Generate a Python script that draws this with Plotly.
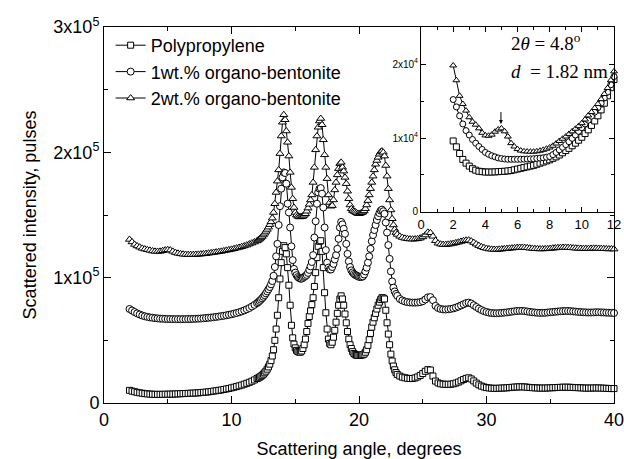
import numpy as np
import plotly.graph_objects as go

# ---------------- data (intensities in thousands of pulses) ----------------
# scan grid: 0.2 deg steps on baselines, 0.1 deg steps across the peak region
angle_lo = np.round(np.arange(2.0, 11.81, 0.2), 1)
angle_mid = np.round(np.arange(12.0, 23.01, 0.1), 1)
angle_hi = np.round(np.arange(23.2, 40.01, 0.2), 1)
angle = np.concatenate([angle_lo, angle_mid, angle_hi])

pp_lo = [10.1, 9.5, 9.0, 8.5, 8.1, 7.8, 7.5, 7.3, 7.1, 7.0,
         6.9, 6.9, 6.9, 6.9, 7.0, 7.0, 7.1, 7.1, 7.2, 7.3,
         7.4, 7.5, 7.6, 7.7, 7.8, 7.9, 8.0, 8.1, 8.3, 8.5,
         8.7, 8.9, 9.2, 9.5, 9.8, 10.1, 10.4, 10.8, 11.2, 11.6,
         12.1, 12.6, 13.1, 13.7, 14.3, 15.0, 15.7, 16.5, 17.4, 18.4]
pp_mid = [19.5, 20.0, 20.6, 21.3, 22.1, 23.0, 24.1, 25.4, 27.0, 28.8,
          31.0, 33.8, 37.5, 42.5, 50.0, 59.0, 70.0, 84.0, 99.0, 112.0,
          121.0, 125.5, 124.0, 119.0, 108.0, 94.0, 78.0, 62.0, 52.0, 47.0,
          44.0, 42.0, 41.0, 40.6, 40.6, 41.5, 43.5, 46.5, 51.0, 57.0,
          63.5, 69.0, 73.5, 78.5, 84.0, 93.0, 104.0, 116.0, 125.0, 129.0,
          129.5, 121.0, 108.0, 88.0, 72.0, 59.0, 51.0, 47.5, 46.5, 48.5,
          52.5, 58.0, 64.5, 71.5, 78.0, 83.0, 85.5, 83.0, 78.0, 71.0,
          64.0, 57.0, 51.0, 46.5, 43.5, 41.0, 39.5, 38.6, 38.1, 38.0,
          38.0, 38.1, 38.3, 38.5, 39.0, 40.5, 42.5, 46.0, 50.5, 55.5,
          60.5, 64.5, 68.0, 71.5, 75.0, 78.0, 80.5, 82.5, 84.0, 83.8,
          83.0, 74.0, 64.0, 55.0, 46.5, 39.0, 33.5, 29.5, 26.5, 24.3,
          22.8]
pp_hi = [21.5, 20.6, 20.1, 19.7, 19.5, 19.6, 20.0, 20.8, 22.0, 23.5,
         25.3, 26.6, 26.3, 21.5, 17.5, 16.0, 15.3, 15.0, 14.9, 14.9,
         15.0, 15.3, 15.9, 16.7, 17.7, 18.7, 19.6, 20.1, 19.2, 17.6,
         15.9, 14.5, 13.5, 12.8, 12.3, 12.0, 11.8, 11.7, 11.7, 11.8,
         11.9, 12.0, 12.1, 12.3, 12.5, 12.7, 12.8, 12.9, 12.9, 12.8,
         12.6, 12.4, 12.2, 12.1, 12.0, 11.9, 11.9, 11.9, 12.0, 12.1,
         12.2, 12.3, 12.4, 12.5, 12.6, 12.6, 12.6, 12.5, 12.4, 12.3,
         12.2, 12.1, 12.0, 11.9, 11.9, 11.9, 12.0, 12.0, 12.0, 11.9,
         11.8, 11.7, 11.6, 11.5, 11.5]

b1_lo = [75.0, 73.8, 72.6, 71.5, 70.6, 69.8, 69.2, 68.7, 68.3, 68.0,
         67.7, 67.5, 67.3, 67.2, 67.1, 67.0, 67.0, 66.9, 66.9, 66.9,
         66.9, 66.9, 66.9, 67.0, 67.0, 67.1, 67.2, 67.3, 67.4, 67.6,
         67.8, 68.0, 68.2, 68.4, 68.7, 69.0, 69.3, 69.6, 70.0, 70.4,
         70.8, 71.3, 71.8, 72.4, 73.1, 73.9, 74.8, 75.8, 77.0, 78.3]
b1_mid = [79.7, 80.5, 81.4, 82.4, 83.5, 84.7, 86.0, 87.5, 89.0, 90.7,
          92.5, 94.7, 97.3, 101.5, 108.5, 117.0, 127.0, 142.0, 157.0, 171.0,
          180.0, 184.0, 183.5, 175.0, 159.0, 152.0, 140.0, 125.0, 114.0, 107.0,
          104.0, 102.0, 100.5, 99.7, 99.2, 99.2, 99.8, 100.6, 101.3, 102.2,
          103.8, 106.2, 109.0, 112.5, 118.0, 132.0, 145.0, 159.0, 168.0, 171.0,
          171.5, 167.0, 156.0, 140.0, 122.0, 112.0, 108.0, 106.5, 106.5, 108.5,
          111.0, 114.5, 118.0, 123.0, 131.0, 140.0, 144.5, 142.5, 139.0, 135.0,
          127.0, 119.0, 113.0, 108.5, 105.8, 104.2, 103.0, 102.2, 101.7, 101.2,
          100.7, 100.5, 100.6, 101.0, 102.5, 105.0, 108.0, 112.0, 117.0, 123.0,
          129.0, 134.0, 138.0, 142.0, 146.0, 149.0, 151.5, 153.5, 154.3, 153.0,
          151.0, 144.0, 136.0, 126.0, 115.0, 105.0, 97.0, 92.0, 89.0, 87.0,
          85.5]
b1_hi = [83.0, 81.8, 81.0, 80.5, 80.2, 80.1, 80.1, 80.2, 80.5, 81.2,
         82.6, 84.3, 84.5, 82.0, 77.5, 75.8, 75.0, 74.7, 74.6, 74.8,
         75.1, 75.5, 76.1, 76.9, 77.8, 78.8, 79.7, 80.1, 79.4, 78.0,
         76.6, 75.3, 74.2, 73.3, 72.6, 72.1, 71.8, 71.6, 71.6, 71.7,
         71.9, 72.1, 72.3, 72.6, 72.9, 73.2, 73.4, 73.5, 73.5, 73.3,
         73.0, 72.7, 72.4, 72.2, 72.0, 71.9, 71.9, 72.0, 72.2, 72.4,
         72.6, 72.8, 73.0, 73.2, 73.3, 73.4, 73.4, 73.3, 73.1, 72.9,
         72.7, 72.5, 72.4, 72.3, 72.2, 72.2, 72.3, 72.4, 72.4, 72.3,
         72.2, 72.1, 72.0, 71.9, 71.8]

b2_lo = [130.5, 128.5, 126.5, 125.3, 124.3, 123.4, 122.8, 122.3, 121.8, 121.3,
         121.0, 120.9, 121.0, 121.5, 122.0, 122.3, 122.0, 121.0, 120.0, 119.4,
         119.0, 118.7, 118.5, 118.4, 118.4, 118.4, 118.5, 118.6, 118.8, 119.0,
         119.2, 119.5, 119.8, 120.1, 120.4, 120.7, 121.0, 121.4, 121.8, 122.2,
         122.6, 123.1, 123.6, 124.1, 124.7, 125.3, 126.0, 126.8, 127.6, 128.4]
b2_mid = [129.3, 130.0, 130.8, 131.7, 132.8, 134.0, 135.4, 136.9, 138.5, 140.3,
          142.3, 144.5, 147.5, 152.0, 159.0, 168.0, 177.0, 186.0, 199.0, 213.0,
          224.0, 230.0, 226.0, 217.0, 208.0, 197.0, 184.0, 172.0, 163.0, 156.0,
          152.0, 150.0, 149.0, 148.5, 148.5, 148.6, 149.0, 149.8, 151.0, 153.0,
          155.5, 158.5, 162.0, 166.0, 176.0, 188.0, 202.0, 213.0, 220.0, 225.0,
          227.0, 222.0, 210.0, 198.0, 188.0, 179.0, 166.0, 160.0, 157.0, 157.5,
          162.0, 170.0, 176.0, 182.0, 187.0, 191.0, 192.0, 188.0, 185.0, 180.0,
          175.0, 169.0, 163.0, 158.0, 155.0, 153.5, 153.0, 152.5, 151.8, 151.2,
          151.0, 151.3, 151.8, 152.3, 153.3, 155.0, 158.0, 161.5, 166.0, 171.0,
          176.0, 181.0, 186.0, 190.5, 193.5, 196.0, 198.5, 200.3, 201.0, 200.0,
          197.0, 189.5, 181.0, 171.0, 162.0, 154.0, 147.0, 142.0, 138.5, 136.0,
          134.5]
b2_hi = [133.0, 132.0, 131.4, 131.0, 130.8, 130.7, 130.8, 131.0, 131.5, 132.5,
         134.0, 136.2, 135.8, 133.0, 129.5, 127.5, 126.7, 126.4, 126.4, 126.6,
         126.9, 127.3, 127.8, 128.3, 128.9, 129.4, 129.8, 129.9, 129.2, 128.0,
         126.7, 125.6, 124.6, 123.9, 123.3, 122.9, 122.6, 122.5, 122.5, 122.6,
         122.8, 123.0, 123.2, 123.4, 123.6, 123.8, 124.0, 124.1, 124.1, 124.0,
         123.8, 123.5, 123.3, 123.1, 123.0, 122.9, 122.9, 123.0, 123.1, 123.3,
         123.5, 123.7, 123.9, 124.0, 124.1, 124.1, 124.0, 123.9, 123.7, 123.5,
         123.4, 123.3, 123.2, 123.2, 123.2, 123.3, 123.4, 123.4, 123.3, 123.2,
         123.1, 123.0, 122.9, 122.9, 122.8]

# inset: low-angle region, 0.2 deg steps, 2..12 deg
inset_angle = np.round(np.arange(2.0, 12.01, 0.2), 1)
in_pp = [9.6, 8.8, 7.9, 7.1, 6.6, 6.2, 5.85, 5.65, 5.5, 5.45,
         5.4, 5.4, 5.4, 5.42, 5.45, 5.48, 5.5, 5.55, 5.6, 5.7,
         5.8, 5.9, 6.0, 6.1, 6.2, 6.3, 6.45, 6.6, 6.75, 6.9,
         7.05, 7.25, 7.45, 7.7, 8.0, 8.3, 8.6, 8.95, 9.3, 9.7,
         10.1, 10.6, 11.1, 11.7, 12.3, 13.0, 13.8, 14.7, 15.7, 16.8,
         17.9]
in_b1 = [15.2, 14.2, 13.0, 11.9, 11.0, 10.4, 9.8, 9.3, 8.85, 8.45,
         8.05, 7.8, 7.6, 7.45, 7.3, 7.22, 7.16, 7.13, 7.12, 7.12,
         7.12, 7.13, 7.14, 7.16, 7.18, 7.2, 7.24, 7.28, 7.33, 7.4,
         7.5, 7.75, 8.05, 8.4, 8.75, 9.1, 9.5, 9.95, 10.4, 10.9,
         11.4, 11.9, 12.4, 12.95, 13.5, 14.1, 14.7, 15.4, 16.2, 17.2,
         18.3]
in_b2 = [19.8, 17.8, 15.7, 14.6, 13.7, 12.8, 12.2, 11.8, 11.3, 10.7,
         10.35, 10.3, 10.45, 10.85, 11.15, 11.3, 10.9, 10.2, 9.3, 8.85,
         8.5, 8.3, 8.2, 8.17, 8.15, 8.16, 8.2, 8.28, 8.4, 8.55,
         8.72, 8.95, 9.25, 9.6, 9.9, 10.2, 10.55, 10.9, 11.25, 11.6,
         12.0, 12.5, 13.05, 13.5, 14.05, 14.6, 15.25, 15.95, 16.75, 17.8,
         19.0]

names = ["Polypropylene", "1wt.% organo-bentonite", "2wt.% organo-bentonite"]
symbols = ["square", "circle", "triangle-up"]
main_tickvals = [0, 100000, 200000, 300000]
main_ticktext = ["0", "1x10<sup>5</sup>", "2x10<sup>5</sup>", "3x10<sup>5</sup>"]
inset_tickvals = [0, 10000, 20000]
inset_ticktext = ["0", "1x10<sup>4</sup>", "2x10<sup>4</sup>"]

pp = np.array(pp_lo + pp_mid + pp_hi) * 1e3
b1 = np.array(b1_lo + b1_mid + b1_hi) * 1e3
b2 = np.array(b2_lo + b2_mid + b2_hi) * 1e3
for arr in (pp, b1, b2):
    assert len(arr) == len(angle), (len(arr), len(angle))
for arr in (in_pp, in_b1, in_b2):
    assert len(arr) == len(inset_angle), (len(arr), len(inset_angle))

fig = go.Figure()
for name, y, sym, sz in zip(names, [pp, b1, b2], symbols, [6, 7, 7]):
    fig.add_trace(go.Scatter(
        x=angle, y=y, mode="lines+markers", name=name,
        line=dict(color="black", width=1),
        marker=dict(symbol=sym, size=sz, color="white",
                    line=dict(color="black", width=1)),
        cliponaxis=False))

for y, sym, sz in zip([in_pp, in_b1, in_b2], symbols, [6, 6, 6]):
    fig.add_trace(go.Scatter(
        x=inset_angle, y=np.array(y) * 1e3, mode="lines+markers",
        showlegend=False, xaxis="x2", yaxis="y2",
        line=dict(color="black", width=1),
        marker=dict(symbol=sym, size=sz, color="white",
                    line=dict(color="black", width=1)),
        cliponaxis=False))

axis_common = dict(showline=True, linecolor="black", linewidth=1, mirror="allticks",
                   ticks="inside", tickcolor="black", tickwidth=1,
                   showgrid=False, zeroline=False, automargin=False,
                   ticklabeloverflow="allow")

title_font = dict(family="Liberation Sans, Arial, sans-serif", size=18, color="black")

fig.update_layout(
    width=624, height=459,
    margin=dict(l=104, r=10, t=27, b=56),
    plot_bgcolor="white", paper_bgcolor="white",
    font=dict(family="Liberation Sans, Arial, sans-serif", size=18, color="black"),
    showlegend=True,
    legend=dict(x=0.013, y=1.0, xanchor="left", yanchor="top",
                bgcolor="rgba(0,0,0,0)", font=dict(size=18),
                tracegroupgap=0, itemsizing="trace"),
    xaxis=dict(range=[0, 40], dtick=10, tick0=0, ticklen=7,
               minor=dict(dtick=5, tick0=0, ticks="inside", ticklen=4,
                          tickcolor="black"),
               title=dict(text="Scattering angle, degrees", standoff=16,
                          font=title_font),
               **axis_common),
    yaxis=dict(range=[0, 300000], tickmode="array", tickvals=main_tickvals,
               ticktext=main_ticktext, ticklen=7,
               minor=dict(dtick=50000, tick0=0, ticks="inside", ticklen=4,
                          tickcolor="black"),
               title=dict(text="Scattered intensity, pulses", standoff=12,
                          font=title_font),
               **axis_common),
    xaxis2=dict(domain=[0.6216, 1.0], anchor="y2", range=[0, 12], dtick=2,
                tick0=0, ticklen=5, tickfont=dict(size=13),
                minor=dict(dtick=1, tick0=0, ticks="inside", ticklen=3,
                           tickcolor="black"),
                **axis_common),
    yaxis2=dict(domain=[0.508, 1.0], anchor="x2", range=[0, 25000],
                tickmode="array", tickvals=inset_tickvals,
                ticktext=inset_ticktext, ticklen=5, tickfont=dict(size=10),
                minor=dict(dtick=5000, tick0=0, ticks="inside", ticklen=3,
                           tickcolor="black"),
                **axis_common),
)

serif = dict(family="Liberation Serif, Times New Roman, serif", size=19, color="black")
fig.add_annotation(x=5.5, y=23000, xref="x2", yref="y2", xanchor="left",
                   yanchor="middle", showarrow=False, font=serif,
                   text="2<i>θ</i> = 4.8<sup>o</sup>")
fig.add_annotation(x=5.5, y=19000, xref="x2", yref="y2", xanchor="left",
                   yanchor="middle", showarrow=False, font=serif,
                   text="<i>d</i>  = 1.82 nm")
fig.add_annotation(x=4.97, y=11900, ax=4.97, ay=13700, xref="x2", yref="y2",
                   axref="x2", ayref="y2", text="", showarrow=True,
                   arrowhead=2, arrowsize=0.8, arrowwidth=1, arrowcolor="black")

fig.write_html("out.html",
               config={"displayModeBar": False},
               post_script="document.body.style.margin='0px';"
                           "document.body.style.overflow='hidden';")
